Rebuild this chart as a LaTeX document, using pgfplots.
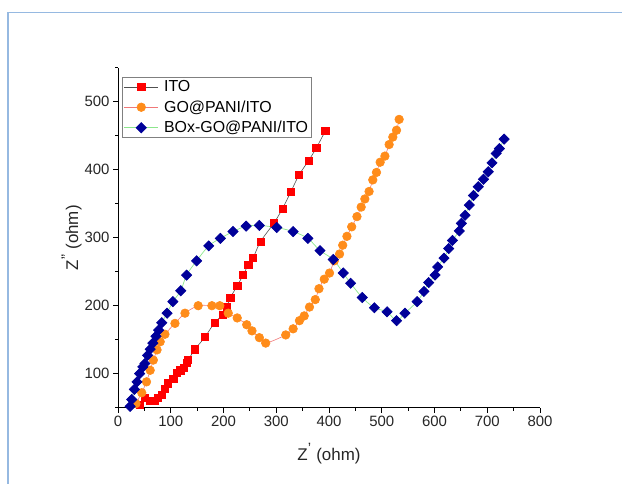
\documentclass[border=0pt]{standalone}
\usepackage{fontspec}
\setmainfont{Liberation Sans}
\usepackage{pgfplots}
\usepackage{pgfplotstable}
\pgfplotsset{compat=1.18}
\definecolor{itored}{RGB}{255,0,0}
\definecolor{goorange}{RGB}{255,140,26}
\definecolor{boxblue}{RGB}{0,0,153}
\definecolor{itoline}{RGB}{80,80,80}
\definecolor{goline}{RGB}{240,120,120}
\definecolor{boxline}{RGB}{140,230,140}
\definecolor{framecol}{RGB}{150,185,225}

\pgfplotstableread{
x y
42 54
51 64
61 60
70 60
76 64
83 69
89 78
95 86
105 93
111 101
118 105
125 109
130 116
133 120
146 136
165 154
183 175
199 187
206 198
213 212
226 229
237 245
247 260
256 270
270 294
296 322
312 343
328 368
343 392
361 413
376 432
393 457
}\itodata

\pgfplotstableread{
x y
34 56
45 72
54 88
61 105
67 120
74 135
80 147
89 158
108 174
127 189
152 200
178 200
193 200
209 189
226 182
244 172
254 163
268 153
280 145
318 157
332 166
344 178
353 185
363 198
374 209
381 225
391 239
401 248
410 266
420 276
426 289
434 302
443 316
453 331
461 345
468 357
476 368
483 385
490 396
497 411
506 420
514 437
521 448
528 458
533 474
}\godata

\pgfplotstableread{
x y
23 52
26 62
31 77
36 88
41 100
47 110
51 115
56 127
61 136
66 145
72 155
77 164
83 175
93 189
104 206
119 222
130 245
149 266
172 288
194 299
218 309
243 317
268 318
301 315
332 309
360 299
383 281
408 268
427 248
441 233
463 212
486 197
510 191
528 178
544 189
567 206
580 221
589 234
601 245
606 257
618 270
627 284
634 296
647 310
651 321
658 333
666 348
674 362
683 375
693 386
702 397
709 410
717 424
723 431
732 445
}\boxdata

\begin{document}
\begin{tikzpicture}
\path[use as bounding box] (0,0) rectangle (622bp,484bp);
\draw[framecol, line width=1.5bp] (8bp,-10bp) -- (8bp,471.7bp) -- (640bp,471.7bp);
\begin{axis}[
  at={(118bp,76.3bp)}, anchor=south west,
  scale only axis, width=422bp, height=340bp,
  xmin=0, xmax=800, ymin=50, ymax=550,
  axis lines*=left,
  xtick={0,100,...,800}, ytick={100,200,...,500},
  minor xtick={50,150,...,750}, minor ytick={50,150,...,550},
  tick align=outside,
  major tick length=5bp, minor tick length=3bp,
  tick style={black, line width=0.8bp},
  axis line style={black, line width=0.9bp},
  ticklabel style={font=\fontsize{15}{17}\selectfont, text=black!85},
  /pgf/number format/assume math mode=true,
  xlabel={Z\textsuperscript{\fontsize{15}{15}\selectfont\char"0027} (ohm)},
  ylabel={Z\textsuperscript{\fontsize{15}{15}\selectfont\char"0022} (ohm)},
  label style={font=\fontsize{17}{19}\selectfont, text=black!85},
  xlabel style={at={(axis description cs:0.5,-0.135)}, anchor=center},
  ylabel style={at={(axis description cs:-0.11,0.5)}, anchor=center},
  legend cell align=left,
  legend style={at={(axis description cs:0.0095,0.9735)}, anchor=north west,
    draw=black!50, line width=0.8bp, font=\fontsize{16}{18}\selectfont,
    inner sep=1.5bp, row sep=3.5bp, column sep=3.5bp},
  legend image code/.code={\draw[#1, mark repeat=2, mark phase=2] plot coordinates {(0bp,0bp) (17bp,0bp) (34bp,0bp)};},
]
\addplot[color=itoline, line width=0.6bp, smooth, mark=square*, mark size=3.6bp,
  mark options={solid, fill=itored, draw=itored}] table[x=x,y=y] {\itodata};
\addlegendentry{ITO}
\addplot[color=goline, line width=0.6bp, smooth, mark=*, mark size=4.3bp,
  mark options={solid, fill=goorange, draw=goorange}] table[x=x,y=y] {\godata};
\addlegendentry{GO@PANI/ITO}
\addplot[color=boxline, line width=0.7bp, smooth, mark=square*, mark size=3.6bp,
  mark options={solid, rotate=45, fill=boxblue, draw=boxblue}] table[x=x,y=y] {\boxdata};
\addlegendentry{BOx-GO@PANI/ITO}
\end{axis}
\end{tikzpicture}
\end{document}
